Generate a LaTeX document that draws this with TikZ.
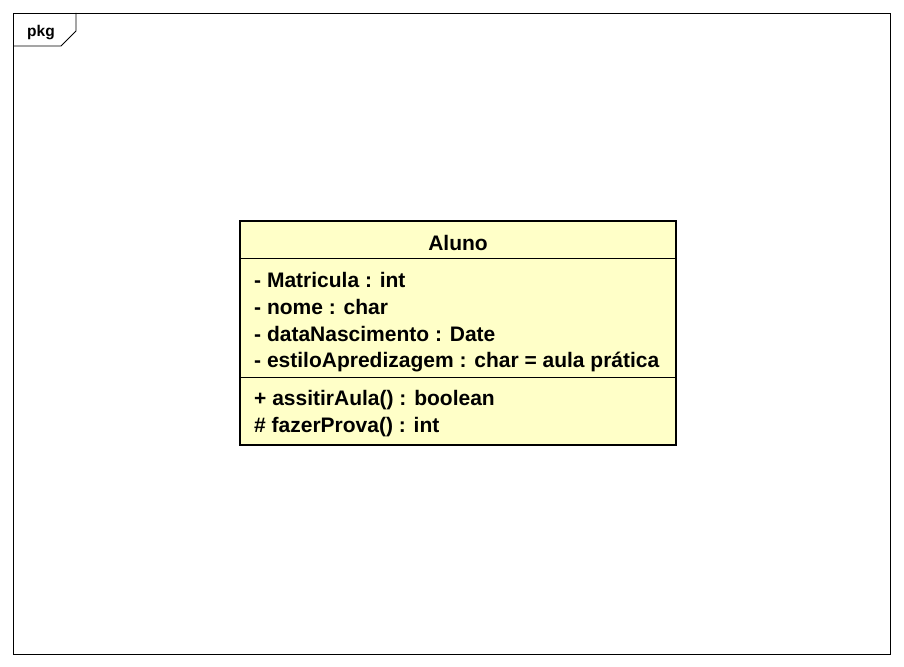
\documentclass[tikz,border=0pt]{standalone}
\usepackage{fontspec}
\setmainfont{Liberation Sans}
\definecolor{classfill}{HTML}{FFFFC8}
\begin{document}
\begin{tikzpicture}[x=1pt,y=-1pt,
  member/.style={anchor=base west,inner sep=0pt,font=\fontsize{21}{23}\selectfont\bfseries},
  frameline/.style={draw=black,line width=0.8pt}]
\useasboundingbox (0,0) rectangle (904,666);
\fill[white] (0,0) rectangle (904,666);
% package frame
\draw[frameline] (13,13) rectangle (890,654);
\coordinate (tabA) at (13,46);
\coordinate (tabB) at (61,46);
\coordinate (tabC) at (76,31);
\coordinate (tabD) at (76,13);
\draw[frameline] (tabA) -- (tabB) -- (tabC) -- (tabD);
\node[anchor=base west,inner sep=0pt,font=\fontsize{15.5}{17}\selectfont\bfseries] (pkg) at (27,37) {pkg};
% class box
\draw[fill=classfill,line width=2.8pt] (240,221) rectangle (676,445);
\coordinate (s1l) at (240,258); \coordinate (s1r) at (676,258);
\coordinate (s2l) at (240,377); \coordinate (s2r) at (676,377);
\draw[line width=0.8pt] (s1l) -- (s1r);
\draw[line width=0.8pt] (s2l) -- (s2r);
\node[anchor=base,inner sep=0pt,font=\fontsize{21}{23}\selectfont\bfseries] (title) at (458,250) {Aluno};
\node[member] (a1) at (254,287) {- Matricula : int};
\node[member] (a2) at (254,314) {- nome : char};
\node[member] (a3) at (254,341) {- dataNascimento : Date};
\node[member] (a4) at (254,367) {- estiloApredizagem : char = aula prática};
\node[member] (m1) at (254,405) {+ assitirAula() : boolean};
\node[member] (m2) at (254,432) {\# fazerProva() : int};
\end{tikzpicture}
\end{document}
